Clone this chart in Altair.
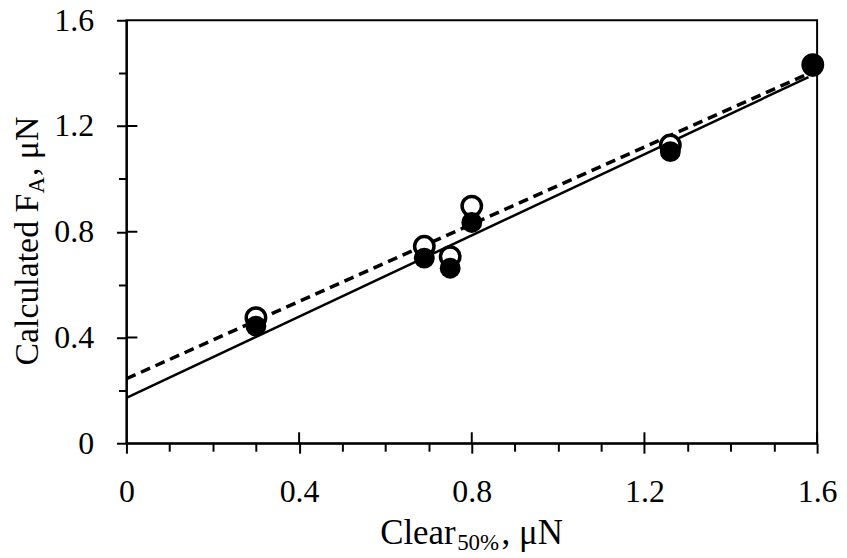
import altair as alt
import pandas as pd

# ---- data ----
CLEAR = [0.30, 0.69, 0.75, 0.80, 1.26, 1.59]
FA_FILLED = [0.443, 0.700, 0.662, 0.835, 1.103, 1.425]
FA_OPEN = [0.475, 0.745, 0.706, 0.897, 1.128, 1.432]

FIT_X = [0.0, 1.58]
FIT_SOLID = [0.172, 1.385]
FIT_DASHED = [0.244, 1.398]

X_TICKS = [0.0, 0.1, 0.2, 0.3, 0.4, 0.5, 0.6, 0.7, 0.8, 0.9, 1.0, 1.1, 1.2, 1.3, 1.4, 1.5, 1.6]
Y_TICKS = [0.0, 0.1, 0.2, 0.3, 0.4, 0.5, 0.6, 0.7, 0.8, 0.9, 1.0, 1.1, 1.2, 1.3, 1.4, 1.5, 1.6]
X_MAJOR_INNER = [0.4, 0.8, 1.2, 1.6]
Y_MAJOR_INNER = [0.4, 0.8, 1.2]

X_TITLE_PARTS = ["Clear", "50%", ", \u03bcN"]
Y_TITLE_PARTS = ["Calculated F", "A", ", \u03bcN"]

W, H = 694, 425
FONT = "Liberation Serif"
LABEL_SIZE = 32
TITLE_SIZE = 35
YTITLE_SIZE = 34
SUB_SIZE = 23

pts = pd.DataFrame({"x": CLEAR, "filled": FA_FILLED, "open": FA_OPEN})
fit = pd.DataFrame({"x": FIT_X, "solid": FIT_SOLID, "dashed": FIT_DASHED})

xscale = alt.Scale(domain=[0, 1.6], nice=False, zero=False)
yscale = alt.Scale(domain=[0, 1.6], nice=False, zero=False)

major_test = "abs(round(datum.value*10) % 4) == 0"
label_expr = ("abs(round(datum.value*10) % 4) == 0 ? "
              "(datum.value == 0 ? '0' : format(datum.value, '.1f')) : ''")

xaxis = alt.Axis(
    values=X_TICKS, labelExpr=label_expr, title=None, grid=False,
    tickSize={"condition": {"test": major_test, "value": 10}, "value": 8},
    tickWidth=2, tickColor="black", domainColor="black", domainWidth=2,
    labelFont=FONT, labelFontSize=LABEL_SIZE, labelColor="black",
    labelPadding=24, labelFlush=False, labelOverlap=False,
)
yaxis = alt.Axis(
    values=Y_TICKS, labelExpr=label_expr, title=None, grid=False,
    tickSize={"condition": {"test": major_test, "value": 10}, "value": 8},
    tickWidth=2, tickColor="black", domainColor="black", domainWidth=2,
    labelFont=FONT, labelFontSize=LABEL_SIZE, labelColor="black",
    labelPadding=23, labelFlush=False, labelOverlap=False,
)

base = alt.Chart(fit)
solid = base.mark_line(color="black", strokeWidth=2.5).encode(
    x=alt.X("x:Q", scale=xscale, axis=xaxis),
    y=alt.Y("solid:Q", scale=yscale, axis=yaxis),
)
dashed = base.mark_line(color="black", strokeWidth=3.5, strokeDash=[10, 6]).encode(
    x=alt.X("x:Q", scale=xscale),
    y=alt.Y("dashed:Q", scale=yscale),
)
open_pts = alt.Chart(pts).mark_circle(
    fill="white", stroke="black", strokeWidth=3.5, size=380, opacity=1
).encode(
    x=alt.X("x:Q", scale=xscale),
    y=alt.Y("open:Q", scale=yscale),
)
filled_pts = alt.Chart(pts).mark_circle(color="black", size=440, opacity=1).encode(
    x=alt.X("x:Q", scale=xscale),
    y=alt.Y("filled:Q", scale=yscale),
)

x_inner = alt.Chart(pd.DataFrame({"v": X_MAJOR_INNER})).mark_rule(
    color="black", strokeWidth=2
).encode(x=alt.X("v:Q", scale=xscale), y=alt.value(H - 11), y2=alt.value(H))
y_inner = alt.Chart(pd.DataFrame({"v": Y_MAJOR_INNER})).mark_rule(
    color="black", strokeWidth=2
).encode(y=alt.Y("v:Q", scale=yscale), x=alt.value(0), x2=alt.value(11))

one = pd.DataFrame({"a": [0]})


def txt(s, size, x, y, angle=0):
    return alt.Chart(one).mark_text(
        text=s, font=FONT, fontSize=size, color="black", align="left",
        baseline="alphabetic", angle=angle,
    ).encode(x=alt.value(x), y=alt.value(y))


# x title pieces
xt0 = 255
xt1 = xt0 + 2.166 * TITLE_SIZE + 1.5
xt2 = xt1 + 1.833 * SUB_SIZE + 2.5
xtitle = [
    txt(X_TITLE_PARTS[0], TITLE_SIZE, xt0, 526),
    txt(X_TITLE_PARTS[1], SUB_SIZE, xt1, 532),
    txt(X_TITLE_PARTS[2], TITLE_SIZE, xt2, 526),
]

# y title pieces (rotated, reading bottom -> top)
yt0 = 347
yt1 = yt0 - 5.083 * YTITLE_SIZE
yt2 = yt1 - 0.722 * SUB_SIZE - 1
ytitle = [
    txt(Y_TITLE_PARTS[0], YTITLE_SIZE, -89, yt0, 270),
    txt(Y_TITLE_PARTS[1], SUB_SIZE, -83, yt1, 270),
    txt(Y_TITLE_PARTS[2], YTITLE_SIZE, -89, yt2, 270),
]

chart = alt.layer(
    solid, dashed, open_pts, filled_pts, x_inner, y_inner, *xtitle, *ytitle
).properties(
    width=W, height=H,
    autosize=alt.AutoSizeParams(type="none"),
    padding={"left": 119, "top": 11, "right": 22, "bottom": 112},
).configure_view(stroke="black", strokeWidth=2)

chart.save("out.html", embed_options={"renderer": "svg", "actions": False})
